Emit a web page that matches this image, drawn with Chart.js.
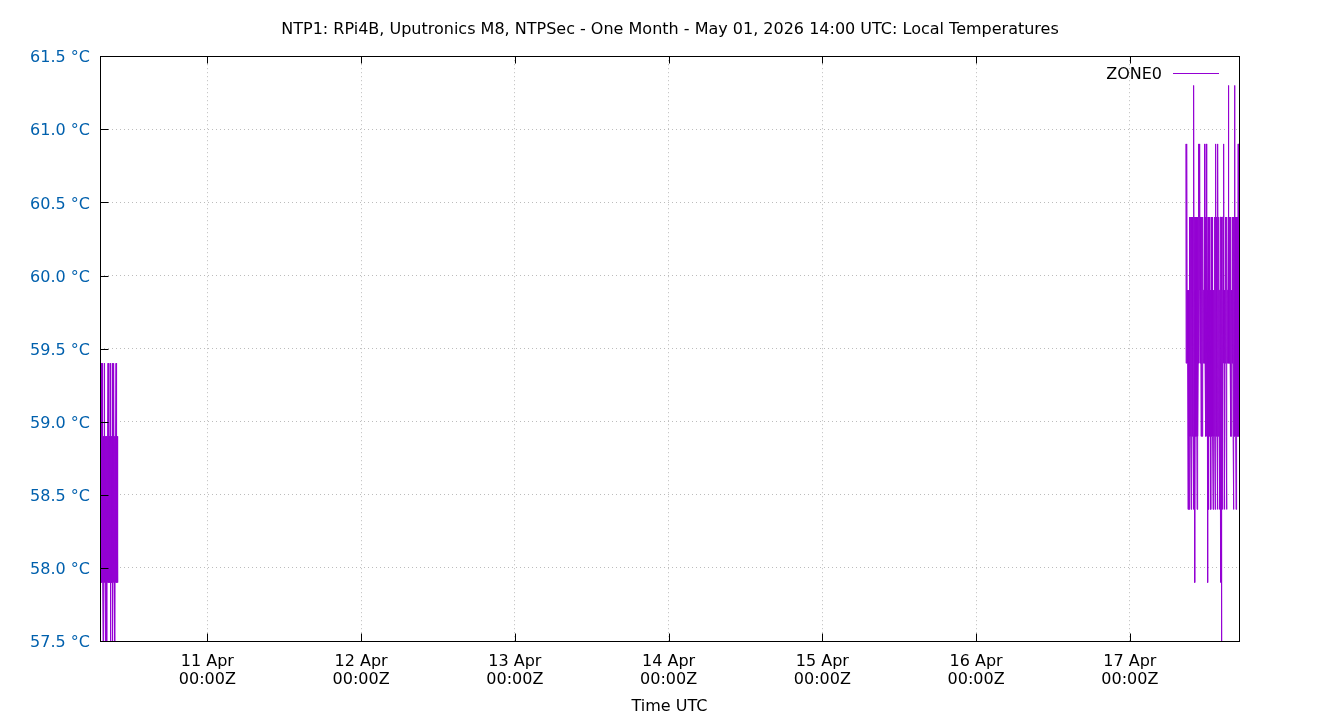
<!DOCTYPE html>
<html>
<head>
<meta charset="utf-8">
<script src="https://cdn.jsdelivr.net/npm/chart.js@4/dist/chart.umd.min.js"></script>
<style>
  html, body { margin: 0; padding: 0; background: #ffffff; }
  #wrap { width: 1340px; height: 720px; position: relative; }
</style>
</head>
<body>
<div id="wrap"><canvas id="c" width="1340" height="720"></canvas></div>
<script>
// ---- Data (x in hours relative to 11 Apr 2026 00:00Z) ----
const chartTitle = "NTP1: RPi4B, Uputronics M8, NTPSec - One Month - May 01, 2026 14:00 UTC: Local Temperatures";
const xAxisTitle = "Time UTC";
const seriesName = "ZONE0";

const sampleStepHours = 2.5 / 60;        // logging interval: 2.5 minutes
const segment1StartHours = -16.75;       // 10 Apr 07:15Z
const segment2StartHours = 152.75;       // 17 Apr 08:45Z

const segment1Values = [
  59.4, 57.9, 58.9, 57.9, 59.4, 57.9, 58.9, 57.9, 59.4, 57.9,
  58.9, 57.9, 57.4, 58.9, 57.9, 58.9, 59.4, 57.9, 58.9, 57.9,
  57.4, 58.9, 57.9, 58.9, 58.4, 57.9, 57.4, 58.9, 57.9, 58.9,
  59.4, 57.9, 58.9, 57.9, 58.9, 57.9, 58.9, 57.9, 59.4, 57.9,
  57.4, 58.9, 57.9, 58.9, 57.9, 58.9, 59.4, 57.9, 57.4, 58.9,
  57.9, 58.9, 59.4, 57.9, 58.9, 58.4, 57.4, 58.9, 57.9, 58.9,
  59.4, 57.9, 58.9, 57.9, 58.9, 57.9, 58.9, 57.9
];

const segment2Values = [
  60.9, 59.4, 59.4, 60.4, 60.9, 59.4, 59.9, 59.4, 58.4, 59.9,
  59.9, 58.9, 58.4, 59.9, 60.4, 58.9, 58.9, 60.4, 59.9, 58.9,
  58.4, 60.4, 60.4, 58.9, 58.9, 60.4, 59.9, 58.9, 58.4, 59.9,
  61.3, 59.4, 58.9, 60.4, 57.9, 59.9, 60.4, 58.9, 58.9, 60.4,
  60.4, 59.4, 58.4, 60.4, 60.4, 58.9, 59.4, 59.9, 60.9, 59.4,
  59.9, 60.4, 60.9, 59.4, 59.4, 60.4, 60.4, 58.9, 58.9, 60.4,
  60.4, 58.9, 58.9, 60.4, 60.4, 59.4, 59.4, 59.9, 59.9, 59.4,
  60.9, 59.4, 59.4, 60.4, 60.4, 58.9, 60.9, 59.4, 58.9, 60.4,
  59.9, 58.9, 57.9, 60.4, 59.9, 58.9, 58.4, 60.4, 60.4, 58.9,
  58.9, 59.9, 59.9, 58.9, 58.4, 60.4, 59.9, 58.9, 58.9, 60.4,
  60.4, 58.9, 58.4, 59.9, 59.9, 58.9, 58.9, 60.4, 59.9, 58.9,
  58.4, 60.4, 60.9, 58.9, 58.9, 60.4, 60.4, 58.9, 58.4, 60.4,
  60.9, 58.9, 58.9, 60.4, 60.4, 58.9, 58.4, 59.9, 59.9, 58.9,
  57.9, 60.4, 60.4, 58.9, 57.4, 59.9, 59.9, 58.9, 58.4, 60.4,
  60.4, 59.4, 60.9, 59.4, 58.4, 59.9, 59.9, 59.4, 59.4, 60.4,
  60.4, 58.9, 58.4, 60.4, 60.4, 59.4, 59.4, 59.9, 59.9, 59.4,
  61.3, 59.4, 59.4, 60.4, 60.4, 59.4, 59.4, 60.4, 60.4, 58.9,
  58.9, 59.9, 59.9, 59.4, 59.4, 60.4, 60.4, 58.9, 58.4, 60.4,
  60.4, 58.9, 61.3, 59.4, 58.9, 60.4, 60.4, 58.9, 58.4, 60.4,
  60.4, 58.9, 58.9, 60.4, 60.4, 58.9, 60.9, 59.4, 58.9, 59.9
];

const xTickHours = [0, 24, 48, 72, 96, 120, 144];
const xTickLabels = [
  ["11 Apr", "00:00Z"], ["12 Apr", "00:00Z"], ["13 Apr", "00:00Z"],
  ["14 Apr", "00:00Z"], ["15 Apr", "00:00Z"], ["16 Apr", "00:00Z"],
  ["17 Apr", "00:00Z"]
];
const yMin = 57.5, yMax = 61.5, yStep = 0.5;

// ---- Build points ----
const points = [];
segment1Values.forEach((v, i) => points.push({ x: segment1StartHours + i * sampleStepHours, y: v }));
points.push({ x: (segment1StartHours + segment2StartHours) / 2, y: null }); // data gap
segment2Values.forEach((v, i) => points.push({ x: segment2StartHours + i * sampleStepHours, y: v }));
const xMin = points[0].x;
const xMax = points[points.length - 1].x;

const LINE_COLOR = '#9400d3';
const FONT = 'DejaVu Sans';
Chart.defaults.font.family = FONT;
Chart.defaults.font.size = 16;
Chart.defaults.color = '#000000';

const framePlugin = {
  id: 'gnuplotFrame',
  afterDatasetsDraw(chart) {
    const { ctx, chartArea: a, scales } = chart;
    const L = Math.round(a.left) + 0.5, R = Math.round(a.right) + 0.5;
    const T = Math.round(a.top) + 0.5, B = Math.round(a.bottom) + 0.5;
    ctx.save();
    ctx.strokeStyle = '#000000';
    ctx.lineWidth = 1;
    ctx.setLineDash([]);
    ctx.beginPath();
    // inward tick marks
    scales.y.ticks.forEach(t => {
      const y = Math.round(scales.y.getPixelForValue(t.value)) + 0.5;
      ctx.moveTo(L, y); ctx.lineTo(L + 8, y);
    });
    scales.x.ticks.forEach(t => {
      const x = Math.round(scales.x.getPixelForValue(t.value)) + 0.5;
      ctx.moveTo(x, B); ctx.lineTo(x, B - 8);
      ctx.moveTo(x, T); ctx.lineTo(x, T + 7);
    });
    ctx.stroke();
    ctx.strokeRect(L, T, R - L, B - T);

    // legend (gnuplot style: label then line sample)
    const ds = chart.data.datasets[0];
    ctx.font = '16px ' + FONT;
    ctx.fillStyle = '#000000';
    ctx.textAlign = 'right';
    ctx.textBaseline = 'middle';
    ctx.fillText(ds.label, 1162, 75);
    ctx.strokeStyle = LINE_COLOR;
    ctx.beginPath();
    ctx.moveTo(1173, 73.5); ctx.lineTo(1219, 73.5);
    ctx.stroke();
    ctx.restore();
  }
};

new Chart(document.getElementById('c'), {
  type: 'line',
  data: {
    datasets: [{
      label: seriesName,
      data: points,
      borderColor: LINE_COLOR,
      backgroundColor: LINE_COLOR,
      borderWidth: 1,
      pointRadius: 0,
      pointHoverRadius: 0,
      tension: 0,
      spanGaps: false,
      fill: false
    }]
  },
  options: {
    responsive: false,
    animation: false,
    devicePixelRatio: 1,
    events: [],
    layout: { padding: 0 },
    plugins: {
      legend: { display: false },
      tooltip: { enabled: false },
      title: {
        display: true,
        text: chartTitle,
        color: '#000000',
        font: { family: FONT, size: 16, weight: 'normal', lineHeight: 1.2 },
        padding: { top: 20, bottom: 17 }
      }
    },
    scales: {
      x: {
        type: 'linear',
        min: xMin,
        max: xMax,
        afterBuildTicks(scale) { scale.ticks = xTickHours.map(v => ({ value: v })); },
        afterFit(scale) { scale.height = 79; },
        ticks: {
          autoSkip: false,
          maxRotation: 0,
          minRotation: 0,
          padding: 12,
          color: '#000000',
          font: { family: FONT, size: 16, lineHeight: '18px' },
          callback: (v, i) => xTickLabels[i]
        },
        grid: { color: '#bcbcbc', lineWidth: 1, drawTicks: false },
        border: { display: false, dash: [1, 3] },
        title: {
          display: true,
          text: xAxisTitle,
          color: '#000000',
          font: { family: FONT, size: 16, lineHeight: 1.2 },
          padding: { top: 0, bottom: 4 }
        }
      },
      y: {
        type: 'linear',
        position: 'left',
        min: yMin,
        max: yMax,
        afterFit(scale) { scale.width = 100; },
        ticks: {
          stepSize: yStep,
          padding: 10,
          labelOffset: 2,
          color: '#0060ad',
          font: { family: FONT, size: 16 },
          callback: v => v.toFixed(1) + ' \u00B0C'
        },
        grid: { color: '#bcbcbc', lineWidth: 1, drawTicks: false },
        border: { display: false, dash: [1, 3] }
      },
      yRightMargin: {
        type: 'linear',
        position: 'right',
        min: yMin,
        max: yMax,
        afterFit(scale) { scale.width = 101; },
        ticks: { display: false },
        grid: { display: false, drawTicks: false },
        border: { display: false }
      }
    }
  },
  plugins: [framePlugin]
});
</script>
</body>
</html>
